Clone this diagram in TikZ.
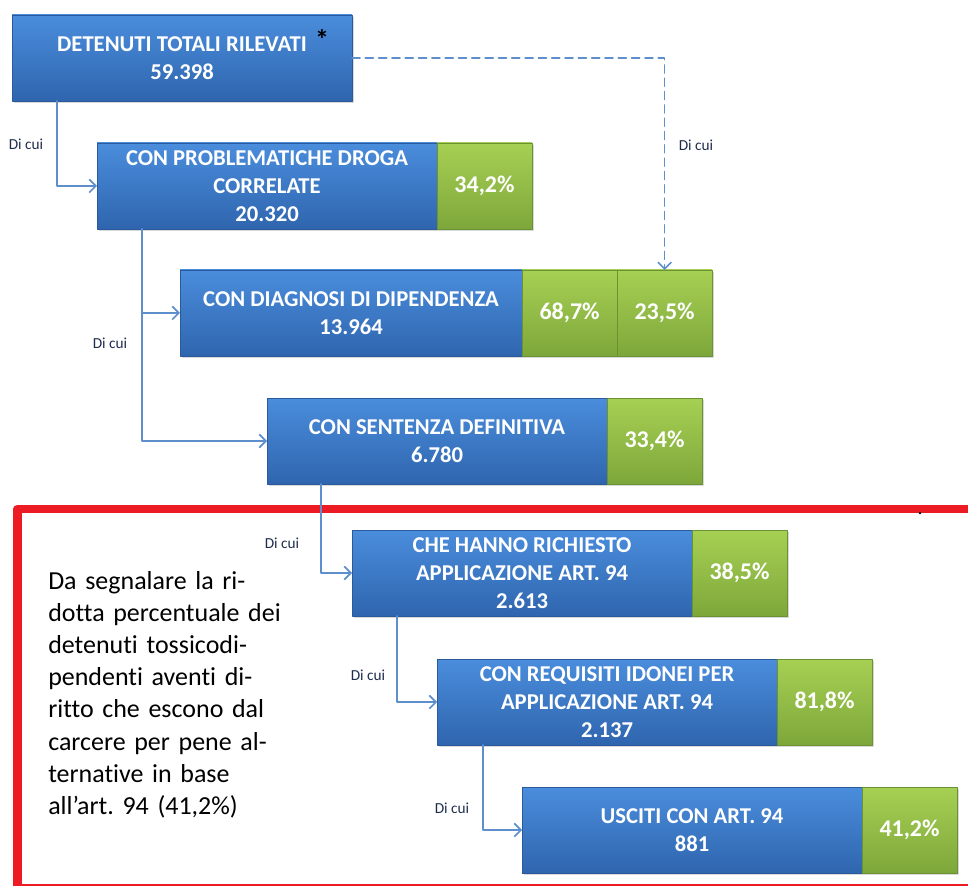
\documentclass[tikz,border=0pt]{standalone}
\usepackage{fontspec}
\setmainfont{Carlito}[Ligatures=NoCommon]
\frenchspacing
\usetikzlibrary{arrows.meta,positioning,calc,shadows}
\definecolor{boxtop}{HTML}{4A8DDC}
\definecolor{boxbot}{HTML}{2F65AE}
\definecolor{boxline}{HTML}{2A5A9C}
\definecolor{pcttop}{HTML}{A6D053}
\definecolor{pctbot}{HTML}{7EA73B}
\definecolor{pctline}{HTML}{6A9132}
\definecolor{linkcol}{HTML}{5E8FCC}
\definecolor{notered}{HTML}{ED1C24}
\definecolor{labcol}{HTML}{1F2D4D}
\tikzset{
	bluebox/.style={rectangle,draw=boxline,line width=0.5pt,top color=boxtop,bottom color=boxbot,
		text=white,font=\bfseries\fontsize{17}{21}\selectfont,align=center,inner sep=0pt,outer sep=0pt,
		minimum width=8.976cm,minimum height=2.27cm,
		drop shadow={shadow xshift=1.5pt,shadow yshift=-1.5pt,opacity=0.3}},
	pctbox/.style={bluebox,draw=pctline,top color=pcttop,bottom color=pctbot,
		font=\bfseries\fontsize{18}{21}\selectfont,minimum width=2.508cm},
	link/.style={draw=linkcol,line width=1.2pt,-{Straight Barb[length=5pt,width=10pt]}},
	dashlink/.style={link,dash pattern=on 6pt off 4pt},
	dicui/.style={text=labcol,font=\fontsize{11.5}{13}\selectfont,inner sep=0pt}
}
\begin{document}
\begin{tikzpicture}[line cap=round,line join=round,x=0.0264cm,y=-0.0264cm]
			\clip (0,0) rectangle (968,886);
			\useasboundingbox (0,0) rectangle (968,886);
			%%%%%%%%%%%%%%% R E D   F R A M E %%%%%%%%%%%%%%%%
			\draw [notered,line width=6.4pt,line cap=butt] (17.5,888.5) rectangle (980,509);
			\fill (920,513) circle (1pt);
			%%%%%%%%%%%%%%% B O X E S %%%%%%%%%%%%%%%%
			%level 0
			\node [bluebox,anchor=north west] (tot) at (12,15) {DETENUTI TOTALI RILEVATI\\59.398};
			\node [font=\bfseries\fontsize{21}{21}\selectfont,inner sep=0pt] (star) at (322,40) {*};
			%level 1
			\node [bluebox,anchor=north west] (drug) at (97,143) {CON PROBLEMATICHE DROGA\\CORRELATE\\20.320};
			\node [pctbox,right=0pt of drug] (drugp) {34,2\%};
			%level 2
			\node [bluebox,anchor=north west,minimum width=9.03cm] (diag) at (180,270) {CON DIAGNOSI DI DIPENDENZA\\13.964};
			\node [pctbox,right=0pt of diag] (diagp) {68,7\%};
			\node [pctbox,right=0pt of diagp] (diagq) {23,5\%};
			%level 3
			\node [bluebox,anchor=north west] (sent) at (267,398) {CON SENTENZA DEFINITIVA\\6.780};
			\node [pctbox,right=0pt of sent] (sentp) {33,4\%};
			%level 4
			\node [bluebox,anchor=north west] (req) at (352,530) {CHE HANNO RICHIESTO\\APPLICAZIONE ART. 94\\2.613};
			\node [pctbox,right=0pt of req] (reqp) {38,5\%};
			%level 5
			\node [bluebox,anchor=north west] (idon) at (437,659) {CON REQUISITI IDONEI PER\\APPLICAZIONE ART. 94\\2.137};
			\node [pctbox,right=0pt of idon] (idonp) {81,8\%};
			%level 6
			\node [bluebox,anchor=north west] (usc) at (522,787) {USCITI CON ART. 94\\881};
			\node [pctbox,right=0pt of usc] (uscp) {41,2\%};
			%%%%%%%%%%%%%%% L I N K S %%%%%%%%%%%%%%%%
			\draw [dashlink] (tot.east) -| (diagq.north);
			\draw [link] ($(tot.south west)+(45,0)$) |- (drug.west);
			\draw [link] ($(drug.south west)+(45,0)$) |- (diag.west);
			\draw [link] ($(drug.south west)+(45,0)$) |- (sent.west);
			\draw [link] ($(sent.south west)+(54,0)$) |- (req.west);
			\draw [link] ($(req.south west)+(45,0)$) |- (idon.west);
			\draw [link] ($(idon.south west)+(46,0)$) |- (usc.west);
			%T A G S
			\node [dicui] (dc1) at (26,144) {Di cui};
			\node [dicui] (dc2) at (110,343) {Di cui};
			\node [dicui] (dc3) at (696,145) {Di cui};
			\node [dicui] (dc4) at (282,543) {Di cui};
			\node [dicui] (dc5) at (368,675) {Di cui};
			\node [dicui] (dc6) at (452,808) {Di cui};
			%N O T E
			\node [anchor=base west,text width=8cm,align=left,inner sep=0pt,
				font=\fontsize{19.5}{24.2}\selectfont] (note) at (48,589)
				{Da segnalare la ri-\\dotta percentuale dei\\detenuti tossicodi-\\pendenti aventi di-\\ritto che escono dal\\carcere per pene al-\\ternative in base\\all’art. 94 (41,2\%)};
		\end{tikzpicture}
\end{document}
